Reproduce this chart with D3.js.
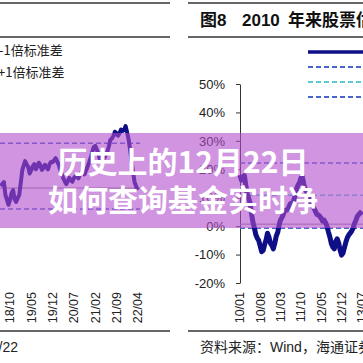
<!DOCTYPE html>
<html>
<head>
<meta charset="utf-8">
<script src="https://cdn.jsdelivr.net/npm/d3@7"></script>
<style>
  body { margin: 0; background: #fff; }
  svg { display: block; }
  .num { font-family: "Liberation Sans", Arial, sans-serif; fill: #222; }
  .cjk { font-family: "Noto Sans CJK SC", sans-serif; fill: #222; }
</style>
</head>
<body>
<svg width="363" height="363"></svg>
<script>
// ---- data ----
const leftStart = "2018-07", leftEnd = "2022-04";
const leftValues = [14.1, 15.5, 9.2, 9.2, 12.7, 8.5, 10.9, 19.7, 22.9, 20.8, 19.7, 21.8, 20.8, 21.5, 20.4, 20.8,
  21.8, 22.5, 23.9, 21.5, 18.3, 15.8, 15.8, 16.2, 16.9, 17.6, 18.3, 19.0, 19.7, 22.5, 26.1, 28.2, 25.7, 22.9,
  23.9, 26.1, 30.3, 31.7, 32.7, 32.7, 33.5, 35.2, 30.3, 22.2, 15.5, 12.7];
const leftMidValues = [14.8, 11.0, 7.5, 11.5, 9.5, 9.8, 15.0, 21.5, 21.8, 18.5, 21.0, 20.0, 22.3, 19.8, 21.6,
  20.0, 22.6, 23.2, 22.8, 19.8, 17.0, 14.8, 17.0, 15.6, 17.5, 16.8, 19.0, 18.2, 21.0, 24.0, 27.8, 26.9, 23.8,
  24.4, 25.0, 28.0, 30.8, 33.2, 31.8, 34.0, 33.8, 33.0, 26.5, 18.5, 14.0];
const leftBands = [29.2, 6.0];      // +/-1 std (dashed)
const leftBase = 13.4;              // thin reference line
const leftTicks = ["18/10", "19/05", "19/12", "20/07", "21/02", "21/09", "22/04"];
const leftLegend = ["-1倍标准差", "+1倍标准差"];

const rightStart = "2010-01", rightEnd = "2013-07";
const rightValues = [18.0, 17.3, 14.8, 9.9, 4.6, -0.7, -4.2, -7.0, -8.5, -4.9, -3.9, -6.7, -6.0, -2.1, 2.1, 4.2,
  5.6, 7.0, 8.1, 10.6, 14.4, 16.9, 14.8, 12.0, 9.9, 7.0, 5.3, 3.9, 2.8, 2.1, 0, -3.9, -7.4, -5.3, -6.0, -10.2,
  -7.4, -3.9, -2.5, -0.7, 2.1, 4.2, 5.3];
const rightMidValues = [16.2, 17.8, 11.5, 8.2, 1.5, -3.0, -5.0, -9.0, -6.5, -2.5, -6.0, -8.0, -3.5, 0.5, 3.0,
  5.5, 5.8, 8.0, 8.8, 13.0, 15.2, 17.5, 13.0, 11.2, 8.0, 6.3, 4.2, 3.5, 1.8, 1.2, -2.0, -6.2, -8.0, -4.5, -8.5,
  -9.5, -5.5, -3.0, -1.8, 1.0, 3.5, 4.6];
const rightUpper = 22.2, rightMean = 10.9, rightLower = -0.7;
const rightYTicks = [50, 40, 30, 20, 10, 0, -10, -20];
const rightTicks = ["10/01", "10/08", "11/03", "11/10", "12/05", "12/12", "13/07"];

const bannerLines = ["历史上的12月22日", "如何查询基金实时净"];

const svg = d3.select("svg");
const parseMonth = d3.timeParse("%Y-%m");
const parseTick = d3.timeParse("%y/%m");

function buildSeries(start, end, values, mids) {
  const months = d3.timeMonth.range(parseMonth(start), d3.timeMonth.offset(parseMonth(end), 1));
  const pts = [];
  months.forEach((m, i) => {
    pts.push({ date: m, value: values[i] });
    if (i < mids.length) pts.push({ date: d3.timeDay.offset(m, 15), value: mids[i] });
  });
  return pts;
}

const y = d3.scaleLinear().domain([-20, 50]).range([283, 84]);
const navy = "#0e0e86";
const blueDash = "#4a64cf";
const cyanDash = "#5ccad6";

// frame rules
const rules = [
  [0, 170, 3], [0, 170, 37], [0, 170, 331],
  [188, 363, 3], [188, 363, 37], [188, 363, 331]
];
svg.selectAll(".rule").data(rules).enter().append("line")
  .attr("x1", d => d[0]).attr("x2", d => d[1])
  .attr("y1", d => d[2]).attr("y2", d => d[2])
  .attr("stroke", "#333").attr("stroke-width", 1.5);

// ---------- left panel ----------
const xL = d3.scaleTime().domain([parseTick("18/10"), parseTick("22/04")]).range([10, 137.7]);
const leftData = buildSeries(leftStart, leftEnd, leftValues, leftMidValues);

svg.append("line")
  .attr("x1", 0).attr("x2", 140)
  .attr("y1", y(leftBase)).attr("y2", y(leftBase))
  .attr("stroke", "#888").attr("stroke-width", 1);

svg.selectAll(".lband").data(leftBands).enter().append("line")
  .attr("x1", 0).attr("x2", 140)
  .attr("y1", d => y(d)).attr("y2", d => y(d))
  .attr("stroke", blueDash).attr("stroke-width", 1.5)
  .attr("stroke-dasharray", "5,3");

svg.append("path")
  .datum(leftData)
  .attr("fill", "none")
  .attr("stroke", navy)
  .attr("stroke-width", 4)
  .attr("stroke-linejoin", "round")
  .attr("d", d3.line().x(d => xL(d.date)).y(d => y(d.value)));

leftTicks.forEach(t => {
  svg.append("text").attr("class", "num")
    .attr("transform", `translate(${xL(parseTick(t))},292) rotate(-90)`)
    .attr("text-anchor", "end").attr("dy", "0.35em")
    .style("font-size", "12.5px").text(t);
});

leftLegend.forEach((t, i) => {
  svg.append("text").attr("class", "cjk")
    .attr("x", i === 0 ? -1 : -2).attr("y", 50 + i * 22).attr("dy", "0.35em")
    .style("font-size", "13px").text(t);
});

svg.append("text").attr("class", "num")
  .attr("x", 18).attr("y", 352).attr("text-anchor", "end")
  .style("font-size", "14px").text("/22");

// ---------- right panel ----------
const xR = d3.scaleTime().domain([parseTick("10/01"), parseTick("13/07")]).range([240, 361.8]);
const rightData = buildSeries(rightStart, rightEnd, rightValues, rightMidValues);

const title = svg.append("text")
  .attr("x", 200).attr("y", 26)
  .style("font-family", "'Liberation Sans', 'Noto Sans CJK SC', sans-serif")
  .style("font-weight", "bold").style("font-size", "17px").attr("fill", "#111");
title.append("tspan").text("图8");
title.append("tspan").attr("x", 242).text("2010");
title.append("tspan").attr("x", 288).text("年来股票估值");

const legendRows = [
  { color: navy, width: 3.5, dash: null },
  { color: blueDash, width: 1.8, dash: "5,3" },
  { color: cyanDash, width: 1.8, dash: "5,3" },
  { color: blueDash, width: 1.8, dash: "5,3" }
];
legendRows.forEach((r, i) => {
  svg.append("line")
    .attr("x1", 308).attr("x2", 375)
    .attr("y1", 52 + i * 15).attr("y2", 52 + i * 15)
    .attr("stroke", r.color).attr("stroke-width", r.width)
    .attr("stroke-dasharray", r.dash);
});

const yAxis = svg.append("g")
  .attr("transform", "translate(240,0)")
  .call(d3.axisLeft(y).tickValues(rightYTicks).tickSize(4).tickSizeOuter(0).tickPadding(11)
    .tickFormat(d => d + "%"));
yAxis.select(".domain").attr("stroke", "#333");
yAxis.selectAll(".tick line").attr("stroke", "#333");
yAxis.selectAll("text")
  .attr("class", "num")
  .style("font-size", "13px");

svg.append("line")
  .attr("x1", 240).attr("x2", 363)
  .attr("y1", y(0) - 2).attr("y2", y(0) - 2)
  .attr("stroke", "#888").attr("stroke-width", 1);

[[rightUpper, blueDash], [rightMean, cyanDash], [rightLower, blueDash]].forEach(([v, c]) => {
  svg.append("line")
    .attr("x1", 240).attr("x2", 363)
    .attr("y1", y(v)).attr("y2", y(v))
    .attr("stroke", c).attr("stroke-width", 1.5)
    .attr("stroke-dasharray", "5,3");
});

svg.append("path")
  .datum(rightData)
  .attr("fill", "none")
  .attr("stroke", navy)
  .attr("stroke-width", 5)
  .attr("stroke-linejoin", "round")
  .attr("d", d3.line().x(d => xR(d.date)).y(d => y(d.value)));

rightTicks.forEach(t => {
  svg.append("text").attr("class", "num")
    .attr("transform", `translate(${xR(parseTick(t))},292) rotate(-90)`)
    .attr("text-anchor", "end").attr("dy", "0.35em")
    .style("font-size", "12.5px").text(t);
});

const source = svg.append("text")
  .attr("x", 200).attr("y", 352)
  .style("font-size", "14px").attr("fill", "#222");
source.append("tspan").attr("class", "cjk").text("资料来源：");
source.append("tspan").style("font-family", "'Liberation Sans', sans-serif").attr("fill", "#222").text("Wind");
source.append("tspan").attr("class", "cjk").text("，海通证券研究所");

// ---------- overlay banner ----------
svg.append("rect")
  .attr("x", 0).attr("y", 133)
  .attr("width", 363).attr("height", 95)
  .attr("fill", "#b04ccc").attr("fill-opacity", 0.6);

bannerLines.forEach((t, i) => {
  svg.append("text")
    .attr("x", 183).attr("y", 173 + i * 38)
    .attr("text-anchor", "middle")
    .style("font-family", "'Noto Sans CJK SC', sans-serif")
    .style("font-weight", "bold").style("font-size", "30px")
    .attr("fill", "#fff")
    .text(t);
});
</script>
</body>
</html>
